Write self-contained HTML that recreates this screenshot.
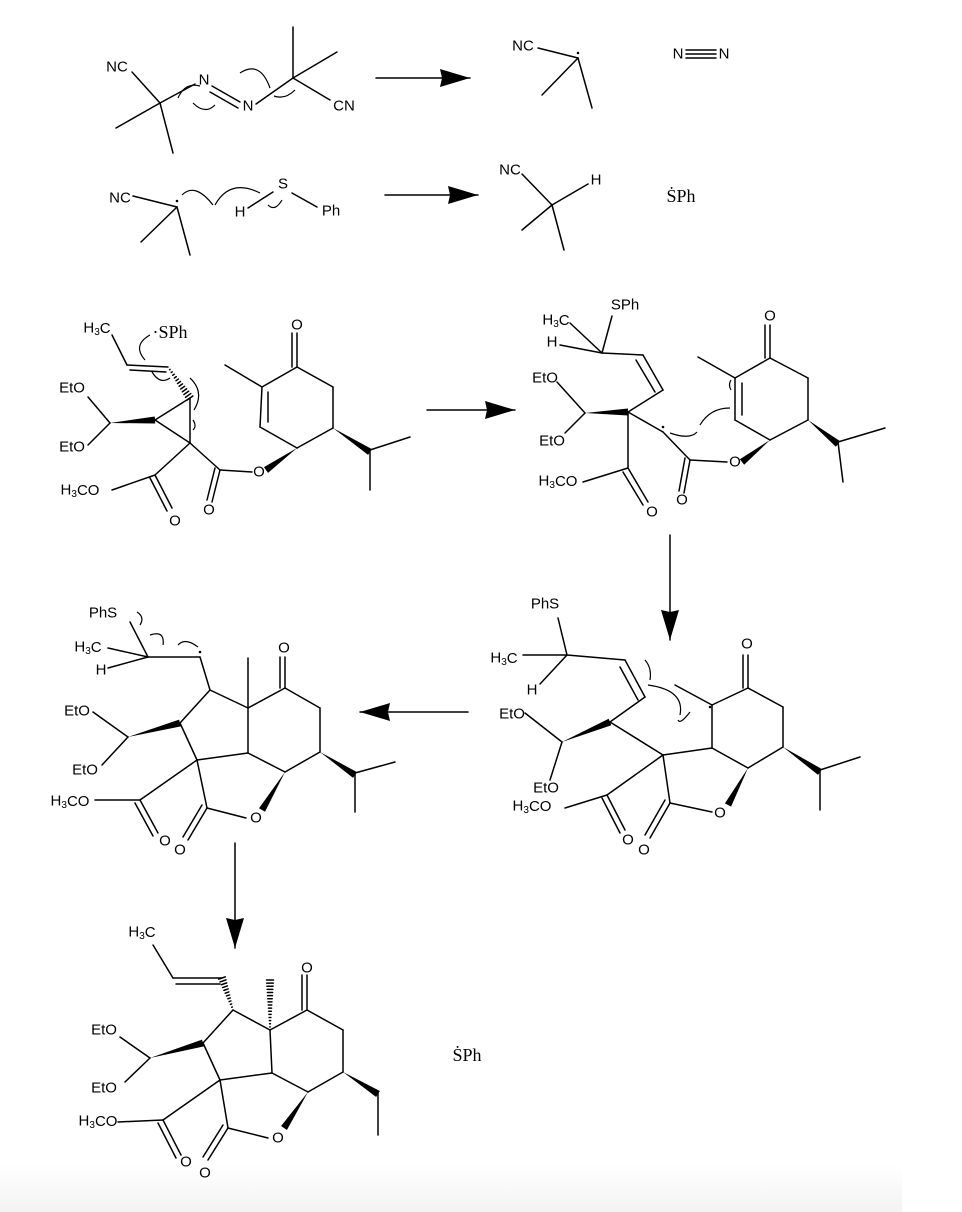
<!DOCTYPE html>
<html><head><meta charset="utf-8"><style>
html,body{margin:0;padding:0;background:#fff;}
svg{display:block;}
text{font-family:"Liberation Sans",sans-serif;font-size:15px;fill:#000;}
.s{font-family:"Liberation Serif",serif;font-size:18px;}
</style></head><body>
<svg id="g" width="962" height="1212" viewBox="0 0 962 1212" xmlns="http://www.w3.org/2000/svg">
<defs><linearGradient id="bg" x1="0" y1="0" x2="0" y2="1"><stop offset="0" stop-color="#fff"/><stop offset="1" stop-color="#f3f3f3"/></linearGradient></defs>
<rect x="0" y="1165" width="902" height="47" fill="url(#bg)"/>
<g id="lines" stroke="#000" stroke-width="1.5" fill="none" stroke-linecap="round"></g>
<g id="fill" fill="#000"></g>
<g stroke="#000" stroke-width="1.2" fill="none">
<path d="M178 98 Q185 82 200 86"/><path d="M193 103 Q205 115 215 105"/><path d="M240 73 Q260 60 270 88"/><path d="M274 96 Q285 100 295 90"/>
<path d="M182 195 Q195 182 213 205"/><path d="M215 205 Q230 178 260 193"/><path d="M268 205 Q275 212 282 200"/>
<path d="M150 335 Q132 345 145 360"/><path d="M152 372 Q160 385 170 378"/><path d="M190 378 Q205 392 194 410"/><path d="M193 420 Q197 426 193 430"/>
<path d="M730 408 Q710 408 700 425"/><path d="M697 432 Q690 440 670 433"/><path d="M731 380 Q728 385 731 390"/>
<path d="M645 660 Q652 668 650 680"/><path d="M648 685 Q685 690 680 715"/><path d="M678 720 Q680 725 690 712"/>
<path d="M137 612 Q145 617 140 625"/><path d="M150 635 Q165 630 163 645"/><path d="M178 645 Q185 637 198 647"/>
</g>
<g fill="#000"><circle cx="578" cy="53" r="1.3"/><circle cx="177" cy="201" r="1.3"/><circle cx="663" cy="427" r="1.3"/><circle cx="710" cy="707" r="1.3"/><circle cx="200" cy="652" r="1.3"/></g>
<g text-anchor="middle" dominant-baseline="central">
<text x="117" y="67">NC</text><text x="204" y="80">N</text><text x="248" y="106">N</text><text x="344" y="106">CN</text>
<text x="120" y="198">NC</text><text x="240" y="212">H</text><text x="283" y="184">S</text><text x="331" y="211">Ph</text>
<text x="523" y="46">NC</text><text x="678" y="54">N</text><text x="724" y="54">N</text>
<text x="510" y="170">NC</text><text x="596" y="180">H</text><text x="681" y="196" class="s">ṠPh</text>
<text x="97" y="328">H<tspan font-size="10" dy="4">3</tspan><tspan dy="-4">C</tspan></text><text x="170" y="332" class="s">·SPh</text>
<text x="72" y="388">EtO</text><text x="72" y="447">EtO</text><text x="80" y="490">H<tspan font-size="10" dy="4">3</tspan><tspan dy="-4">CO</tspan></text>
<text x="175" y="521">O</text><text x="209" y="510">O</text><text x="259" y="472">O</text><text x="297" y="325">O</text>
<text x="625" y="305">SPh</text><text x="556" y="320">H<tspan font-size="10" dy="4">3</tspan><tspan dy="-4">C</tspan></text><text x="552" y="342">H</text>
<text x="545" y="378">EtO</text><text x="552" y="441">EtO</text><text x="558" y="481">H<tspan font-size="10" dy="4">3</tspan><tspan dy="-4">CO</tspan></text>
<text x="652" y="512">O</text><text x="682" y="500">O</text><text x="735" y="462">O</text><text x="770" y="316">O</text>
<text x="545" y="604">PhS</text><text x="504" y="658">H<tspan font-size="10" dy="4">3</tspan><tspan dy="-4">C</tspan></text><text x="532" y="690">H</text>
<text x="512" y="714">EtO</text><text x="546" y="788">EtO</text><text x="532" y="806">H<tspan font-size="10" dy="4">3</tspan><tspan dy="-4">CO</tspan></text>
<text x="628" y="840">O</text><text x="644" y="850">O</text><text x="720" y="813">O</text><text x="747" y="644">O</text>
<text x="103" y="613">PhS</text><text x="88" y="647">H<tspan font-size="10" dy="4">3</tspan><tspan dy="-4">C</tspan></text><text x="101" y="670">H</text>
<text x="77" y="711">EtO</text><text x="85" y="770">EtO</text><text x="70" y="801">H<tspan font-size="10" dy="4">3</tspan><tspan dy="-4">CO</tspan></text>
<text x="165" y="841">O</text><text x="180" y="850">O</text><text x="256" y="818">O</text><text x="284" y="648">O</text>
<text x="142" y="932">H<tspan font-size="10" dy="4">3</tspan><tspan dy="-4">C</tspan></text>
<text x="104" y="1030">EtO</text><text x="104" y="1088">EtO</text><text x="98" y="1121">H<tspan font-size="10" dy="4">3</tspan><tspan dy="-4">CO</tspan></text>
<text x="186" y="1162">O</text><text x="205" y="1173">O</text><text x="278" y="1138">O</text><text x="307" y="968">O</text>
<text x="467" y="1055" class="s">ṠPh</text>
</g>
</svg>
<script>
var NS="http://www.w3.org/2000/svg",G=document.getElementById("lines"),F=document.getElementById("fill");
function L(a){for(var i=0;i<a.length;i+=4){var l=document.createElementNS(NS,"line");l.setAttribute("x1",a[i]);l.setAttribute("y1",a[i+1]);l.setAttribute("x2",a[i+2]);l.setAttribute("y2",a[i+3]);G.appendChild(l);}}
function P(pts){var p=document.createElementNS(NS,"polygon");p.setAttribute("points",pts.join(" "));F.appendChild(p);}
function W(x1,y1,x2,y2){var dx=x2-x1,dy=y2-y1,d=Math.hypot(dx,dy),nx=-dy/d*3.5,ny=dx/d*3.5;P([x1,y1,x2+nx,y2+ny,x2-nx,y2-ny]);}
function H(x1,y1,x2,y2){var dx=x2-x1,dy=y2-y1,d=Math.hypot(dx,dy),n=Math.floor(d/3);for(var i=1;i<=n;i++){var t=i/n,w=3.5*t,cx=x1+dx*t,cy=y1+dy*t,nx=-dy/d*w,ny=dx/d*w;L([cx+nx,cy+ny,cx-nx,cy-ny]);}}
function A(x1,y1,x2,y2){L([x1,y1,x2,y2]);var dx=x2-x1,dy=y2-y1,d=Math.hypot(dx,dy),ux=dx/d,uy=dy/d;var bx=x2-ux*34,by=y2-uy*34;P([x2,y2,bx-uy*9+ux*4,by+ux*9+uy*4,bx+ux*6,by+uy*6,bx+uy*9+ux*4,by-ux*9+uy*4]);}
L([132,72,160,103,160,103,116,128,160,103,173,153,160,103,195,84,212,86,240,102,210,92,238,108,256,104,293,78,293,78,293,27,293,78,337,52,293,78,330,100]);
A(376,78,470,78);
L([133,196,177,207,177,207,141,242,177,207,190,255,248,208,273,192,292,193,317,207]);
A(385,195,478,195);
L([538,48,578,58,578,58,542,95,578,58,592,108,686,50,716,50,686,54,716,54,686,58,716,58]);
L([522,174,552,205,552,205,522,230,552,205,564,250,552,205,588,184]);
L([112,335,127,365,127,365,168,367,130,370,166,372,155,420,190,398,155,420,190,443,190,398,190,443,88,397,110,423,110,423,88,445,190,443,155,475,155,475,112,490,155,475,172,508,150,478,167,511,190,443,220,470,220,470,212,502,215,468,207,500,220,470,252,472,297,448,260,427,260,427,262,387,262,387,297,367,297,367,333,387,333,387,333,428,333,428,297,448,297,367,297,333,292,367,292,333,262,387,225,365,268,392,268,422,370,450,410,437,370,450,370,490]);
W(110,423,155,420);H(168,367,190,398);W(297,448,266,470);W(333,428,370,452);
A(427,410,515,410);
L([612,316,602,353,570,323,602,353,560,345,602,353,602,353,643,355,643,355,663,390,636,360,655,392,663,390,628,412,557,382,585,413,585,413,565,433,628,412,663,432,628,412,628,468,628,468,583,482,628,468,648,502,623,472,643,505,663,432,690,460,690,460,684,493,685,458,679,491,690,460,727,462,770,440,735,420,735,420,735,378,735,378,770,358,770,358,808,378,808,378,808,420,808,420,770,440,770,358,770,325,765,358,765,325,735,378,698,357,742,383,742,415,838,442,885,428,838,442,843,482]);
W(585,413,628,412);W(770,440,742,462);W(808,420,838,444);
A(670,535,670,640);
L([558,618,567,655,523,655,567,655,540,684,567,655,567,655,625,660,625,660,645,697,620,667,638,700,645,697,610,722,525,713,562,742,562,742,550,780,610,722,663,755,663,755,607,795,607,795,565,808,607,795,625,830,602,798,620,833,663,755,670,803,670,803,650,838,665,800,645,835,670,803,712,812,663,755,712,748,712,748,748,768,712,748,712,705,712,705,748,688,748,688,783,707,783,707,783,747,783,747,748,768,748,688,748,655,743,688,743,655,712,705,675,685,820,770,860,757,820,770,820,810]);
W(562,742,610,722);W(748,768,728,805);W(783,747,820,772);
A(468,712,360,712);
L([130,622,148,657,108,648,148,657,108,668,148,657,148,657,200,657,200,657,210,690,210,690,180,723,180,723,197,760,197,760,248,753,248,753,248,708,248,708,210,690,248,708,248,658,248,708,285,688,285,688,320,708,320,708,320,752,320,752,285,772,285,772,248,753,285,688,285,657,280,688,280,657,355,773,395,762,355,773,355,812,93,712,128,737,128,737,102,765,197,760,140,800,140,800,95,800,140,800,158,833,135,803,153,836,197,760,207,808,207,808,188,840,202,805,183,837,207,808,246,818]);
W(128,737,180,723);W(285,772,262,810);W(320,752,355,775);
A(235,843,235,948);
L([153,945,173,978,173,978,222,978,176,984,220,984,233,1010,203,1043,203,1043,220,1080,220,1080,272,1073,272,1073,270,1030,270,1030,233,1010,270,1030,307,1010,307,1010,343,1030,343,1030,343,1072,343,1072,308,1092,308,1092,272,1073,307,1010,307,975,302,1010,302,975,378,1092,378,1135,120,1037,150,1058,150,1058,125,1082,220,1080,163,1120,163,1120,118,1122,163,1120,181,1155,158,1123,176,1158,220,1080,228,1128,228,1128,208,1160,223,1125,203,1157,228,1128,268,1138]);
W(150,1058,203,1043);H(233,1010,222,978);H(270,1030,270,980);W(308,1092,284,1128);W(343,1072,378,1094);
</script>
</body></html>
